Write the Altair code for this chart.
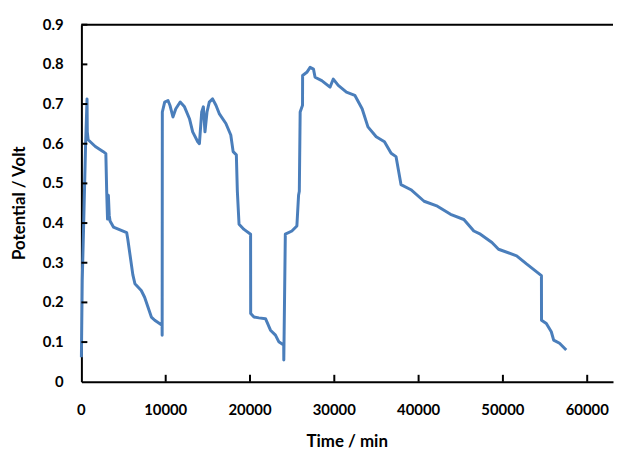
import altair as alt
import pandas as pd

time_min = [0, 100, 250, 500, 670, 700, 800, 1650, 2600, 2900, 3000, 3100, 3200, 3300, 3400, 3800, 5370,
            5500, 6100, 6350, 7100, 7500, 8300, 8700, 9570, 9580, 9600,
            9880, 10270, 10500, 10860, 11200, 11720, 12230, 12820, 13200, 13800, 14000, 14270, 14470, 14660,
            14900, 15170, 15560, 15960, 16350, 17140, 17720, 18000, 18380, 18500, 18700, 19290, 20070, 20080,
            20470, 21060, 21840, 22430, 23020, 23410, 24000, 24010, 24190, 24970, 25560, 25760, 25850, 25950,
            26230, 26240, 26740, 27130, 27530, 27720, 28510, 29490, 29880, 30470, 31440, 32430, 33300, 33990,
            34970, 35950, 36740, 37320, 37910, 39090, 40650, 42230, 43790, 45370, 46550, 47330, 48700, 49480,
            51630, 52800, 54570, 54580, 55150, 55740, 56020, 56720, 57510]
potential = [0.062, 0.255, 0.38, 0.6, 0.713, 0.63, 0.61, 0.593, 0.58, 0.575, 0.48, 0.41, 0.47, 0.42, 0.405, 0.39, 0.376,
             0.36, 0.27, 0.247, 0.23, 0.213, 0.163, 0.155, 0.1425, 0.1175, 0.68,
             0.705, 0.709, 0.697, 0.6675, 0.688, 0.705, 0.693, 0.663, 0.63, 0.605, 0.6, 0.68, 0.693, 0.63,
             0.68, 0.705, 0.713, 0.697, 0.676, 0.651, 0.622, 0.58, 0.572, 0.48, 0.397, 0.384, 0.372, 0.172,
             0.163, 0.161, 0.159, 0.13, 0.1175, 0.101, 0.0925, 0.055, 0.372, 0.38, 0.3925, 0.47, 0.48, 0.68,
             0.697, 0.772, 0.78, 0.7925, 0.788, 0.7675, 0.759, 0.7425, 0.763, 0.747, 0.73, 0.722, 0.688, 0.6425,
             0.6175, 0.605, 0.576, 0.5675, 0.497, 0.484, 0.455, 0.4425, 0.422, 0.409, 0.38, 0.372, 0.351, 0.334,
             0.3175, 0.297, 0.2675, 0.155, 0.147, 0.126, 0.105, 0.097, 0.08]

x_ticks = [0, 10000, 20000, 30000, 40000, 50000, 60000]
x_labels = ["0", "10000", "20000", "30000", "40000", "50000", "60000"]
y_ticks = [0, 0.1, 0.2, 0.3, 0.4, 0.5, 0.6, 0.7, 0.8, 0.9]
y_labels = ["0", "0.1", "0.2", "0.3", "0.4", "0.5", "0.6", "0.7", "0.8", "0.9"]
x_title = "Time / min"
y_title = "Potential / Volt"

X_MAX = 63060
W, H = 536, 360
PX_X = X_MAX / W      # data units per pixel (x)
PX_Y = 0.9 / H        # data units per pixel (y)
FONT = "Lato"

df = pd.DataFrame({"t": time_min, "v": potential, "i": list(range(len(time_min)))})
frame_df = pd.DataFrame({"t": [0], "t2": [X_MAX], "v": [0.9]})
xtick_df = pd.DataFrame({"t": x_ticks[1:], "v": [0.0] * 6, "v2": [7 * PX_Y] * 6})
ytick_df = pd.DataFrame({"v": y_ticks[1:], "t": [0] * 9, "t2": [6 * PX_X] * 9})
xlab_df = pd.DataFrame({"t": x_ticks, "v": [0.0] * 7, "lab": x_labels})
ylab_df = pd.DataFrame({"t": [0] * 10, "v": y_ticks, "lab": y_labels})
xtitle_df = pd.DataFrame({"t": [X_MAX / 2], "v": [-61 * PX_Y], "lab": [x_title]})
ytitle_df = pd.DataFrame({"t": [-62 * PX_X], "v": [0.45], "lab": [y_title]})

xs = alt.Scale(domain=[0, X_MAX], nice=False, zero=False)
ys = alt.Scale(domain=[0, 0.9], nice=False)

ax = dict(ticks=False, grid=False, labels=False, title=None, domainColor="black", domainWidth=2)

line = alt.Chart(df).mark_line(color="#4A7EBB", strokeWidth=3, strokeJoin="round").encode(
    x=alt.X("t:Q", scale=xs, axis=alt.Axis(**ax)),
    y=alt.Y("v:Q", scale=ys, axis=alt.Axis(**ax)),
    order="i:Q",
)

frame = alt.Chart(frame_df).mark_rule(color="black", strokeWidth=2).encode(
    x="t:Q", x2="t2:Q", y="v:Q")
xt = alt.Chart(xtick_df).mark_rule(color="black", strokeWidth=2).encode(
    x="t:Q", y="v:Q", y2="v2:Q")
yt = alt.Chart(ytick_df).mark_rule(color="black", strokeWidth=2).encode(
    x="t:Q", x2="t2:Q", y="v:Q")

txt = dict(font=FONT, fontWeight="bold", color="black", baseline="middle")
xlab = alt.Chart(xlab_df).mark_text(fontSize=15, align="center", dy=29, **txt).encode(
    x="t:Q", y="v:Q", text="lab:N")
ylab = alt.Chart(ylab_df).mark_text(fontSize=15, align="right", dx=-18, **txt).encode(
    x="t:Q", y="v:Q", text="lab:N")
xtitle = alt.Chart(xtitle_df).mark_text(fontSize=17, align="center", **txt).encode(
    x="t:Q", y="v:Q", text="lab:N")
ytitle = alt.Chart(ytitle_df).mark_text(fontSize=17, align="center", angle=270, **txt).encode(
    x="t:Q", y="v:Q", text="lab:N")

chart = alt.layer(line, frame, xt, yt, xlab, ylab, xtitle, ytitle).properties(
    width=W, height=H,
    padding={"left": 3, "top": 8, "right": 0, "bottom": 2},
).configure_view(stroke=None)

chart.save("out.html", embed_options={"renderer": "svg", "actions": False})
